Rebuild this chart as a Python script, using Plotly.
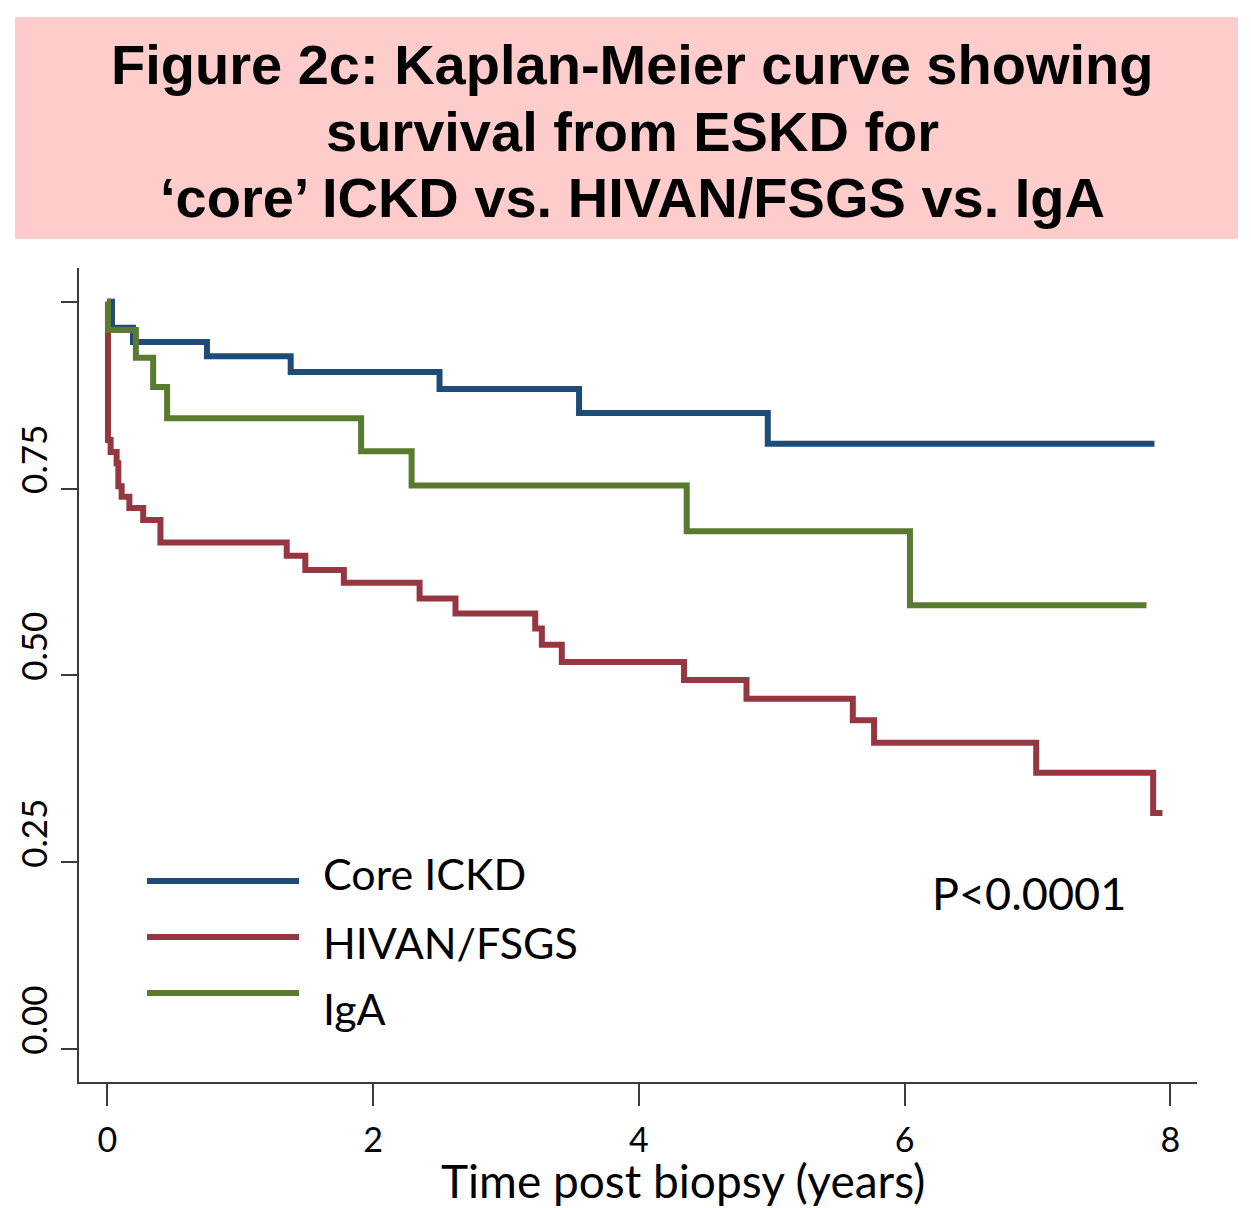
import plotly.graph_objects as go

# ---- data ----
core_t = [0, 0.035, 0.193, 0.75, 1.38, 2.5, 3.55, 4.97, 7.88]
core_s = [1.0, 0.965, 0.946, 0.927, 0.906, 0.883, 0.851, 0.810, 0.810]

hivan_t = [0, 0.005, 0.025, 0.07, 0.083, 0.108, 0.166, 0.27, 0.40, 1.35, 1.49, 1.78,
           2.35, 2.62, 3.22, 3.27, 3.42, 4.34, 4.81, 5.61, 5.77, 6.99, 7.87, 7.94]
hivan_s = [1.0, 0.815, 0.799, 0.784, 0.753, 0.739, 0.724, 0.708, 0.678, 0.660, 0.641, 0.624,
           0.603, 0.583, 0.563, 0.541, 0.518, 0.494, 0.469, 0.440, 0.410, 0.370, 0.316, 0.316]

iga_t = [0, 0.005, 0.215, 0.345, 0.45, 1.91, 2.29, 4.36, 6.04, 7.82]
iga_s = [1.0, 0.962, 0.925, 0.886, 0.844, 0.80, 0.754, 0.693, 0.594, 0.594]

series_names = ["Core ICKD", "HIVAN/FSGS", "IgA"]
x_ticks = [0, 2, 4, 6, 8]
y_ticks = [0, 0.25, 0.5, 0.75, 1.0]
y_ticktext = ["0.00", "0.25", "0.50", "0.75", ""]

title_lines = ["Figure 2c: Kaplan-Meier curve showing",
               "survival from ESKD for",
               "‘core’ ICKD vs. HIVAN/FSGS vs. IgA"]

BLUE = "rgb(29,76,120)"
RED = "rgb(150,54,64)"
GREEN = "rgb(90,122,48)"
AX = "rgb(60,60,60)"

W, H = 1251, 1208
L, R, T, B = 79, 54, 268, 126
PW, PH = W - L - R, H - T - B


def px(xp):
    return (xp - L) / PW


def py(yp):
    return (H - B - yp) / PH


fig = go.Figure()
for t, s, c, n in [(hivan_t, hivan_s, RED, series_names[1]),
                   (core_t, core_s, BLUE, series_names[0]),
                   (iga_t, iga_s, GREEN, series_names[2])]:
    fig.add_trace(go.Scatter(x=t, y=s, mode="lines", line=dict(color=c, width=6, shape="hv"),
                             name=n, showlegend=False))

shapes = [dict(type="rect", xref="paper", yref="paper", x0=px(15), x1=px(1238), y0=py(239), y1=py(17),
               fillcolor="rgb(255,204,204)", line=dict(width=0), layer="below")]

ann = []
title_y = [65, 131, 197]
for line, yy in zip(title_lines, title_y):
    ann.append(dict(text="<b>" + line + "</b>", xref="paper", yref="paper", x=px(632), y=py(yy),
                    xanchor="center", yanchor="middle", showarrow=False,
                    font=dict(family="Liberation Sans, Arial, sans-serif", size=56, color="black")))

# legend
leg_y = [881, 937, 993]
leg_text_y = [873, 942, 1008]
for n, c, ly, ty in zip(series_names, [BLUE, RED, GREEN], leg_y, leg_text_y):
    shapes.append(dict(type="line", xref="paper", yref="paper", x0=px(147), x1=px(299), y0=py(ly), y1=py(ly),
                       line=dict(color=c, width=6)))
    ann.append(dict(text=n, xref="paper", yref="paper", x=px(321), y=py(ty), xanchor="left", yanchor="middle",
                    showarrow=False, font=dict(family="Lato", size=43, color="black")))

ann.append(dict(text="P<0.0001", xref="paper", yref="paper", x=px(1029), y=py(893), xanchor="center",
                yanchor="middle", showarrow=False, font=dict(family="Lato", size=45, color="black")))
ann.append(dict(text="Time post biopsy (years)", xref="paper", yref="paper", x=px(683), y=py(1180),
                xanchor="center", yanchor="middle", showarrow=False,
                font=dict(family="Lato", size=46, color="black")))

fig.update_layout(
    width=W, height=H, margin=dict(l=L, r=R, t=T, b=B),
    paper_bgcolor="white", plot_bgcolor="white",
    shapes=shapes, annotations=ann, showlegend=False,
    xaxis=dict(range=[-0.213, 8.2], tickvals=x_ticks, ticks="outside", ticklen=22, tickwidth=1.5,
               tickcolor=AX, showline=True, linecolor=AX, linewidth=1.5, showgrid=False, zeroline=False,
               tickfont=dict(family="Lato", size=34, color="black"), ticklabelstandoff=5),
    yaxis=dict(range=[-0.0437, 1.045], tickvals=y_ticks, ticktext=y_ticktext, ticks="outside", ticklen=16,
               tickwidth=1.5, tickcolor=AX, showline=True, linecolor=AX, linewidth=1.5, showgrid=False,
               zeroline=False, tickangle=-90, tickfont=dict(family="Lato", size=35, color="black"),
               ticklabelstandoff=0, ticklabelshift=-24),
)

fig.write_html("out.html", config={"displayModeBar": False},
               post_script="document.body.style.margin='0';document.body.style.overflow='hidden';")
